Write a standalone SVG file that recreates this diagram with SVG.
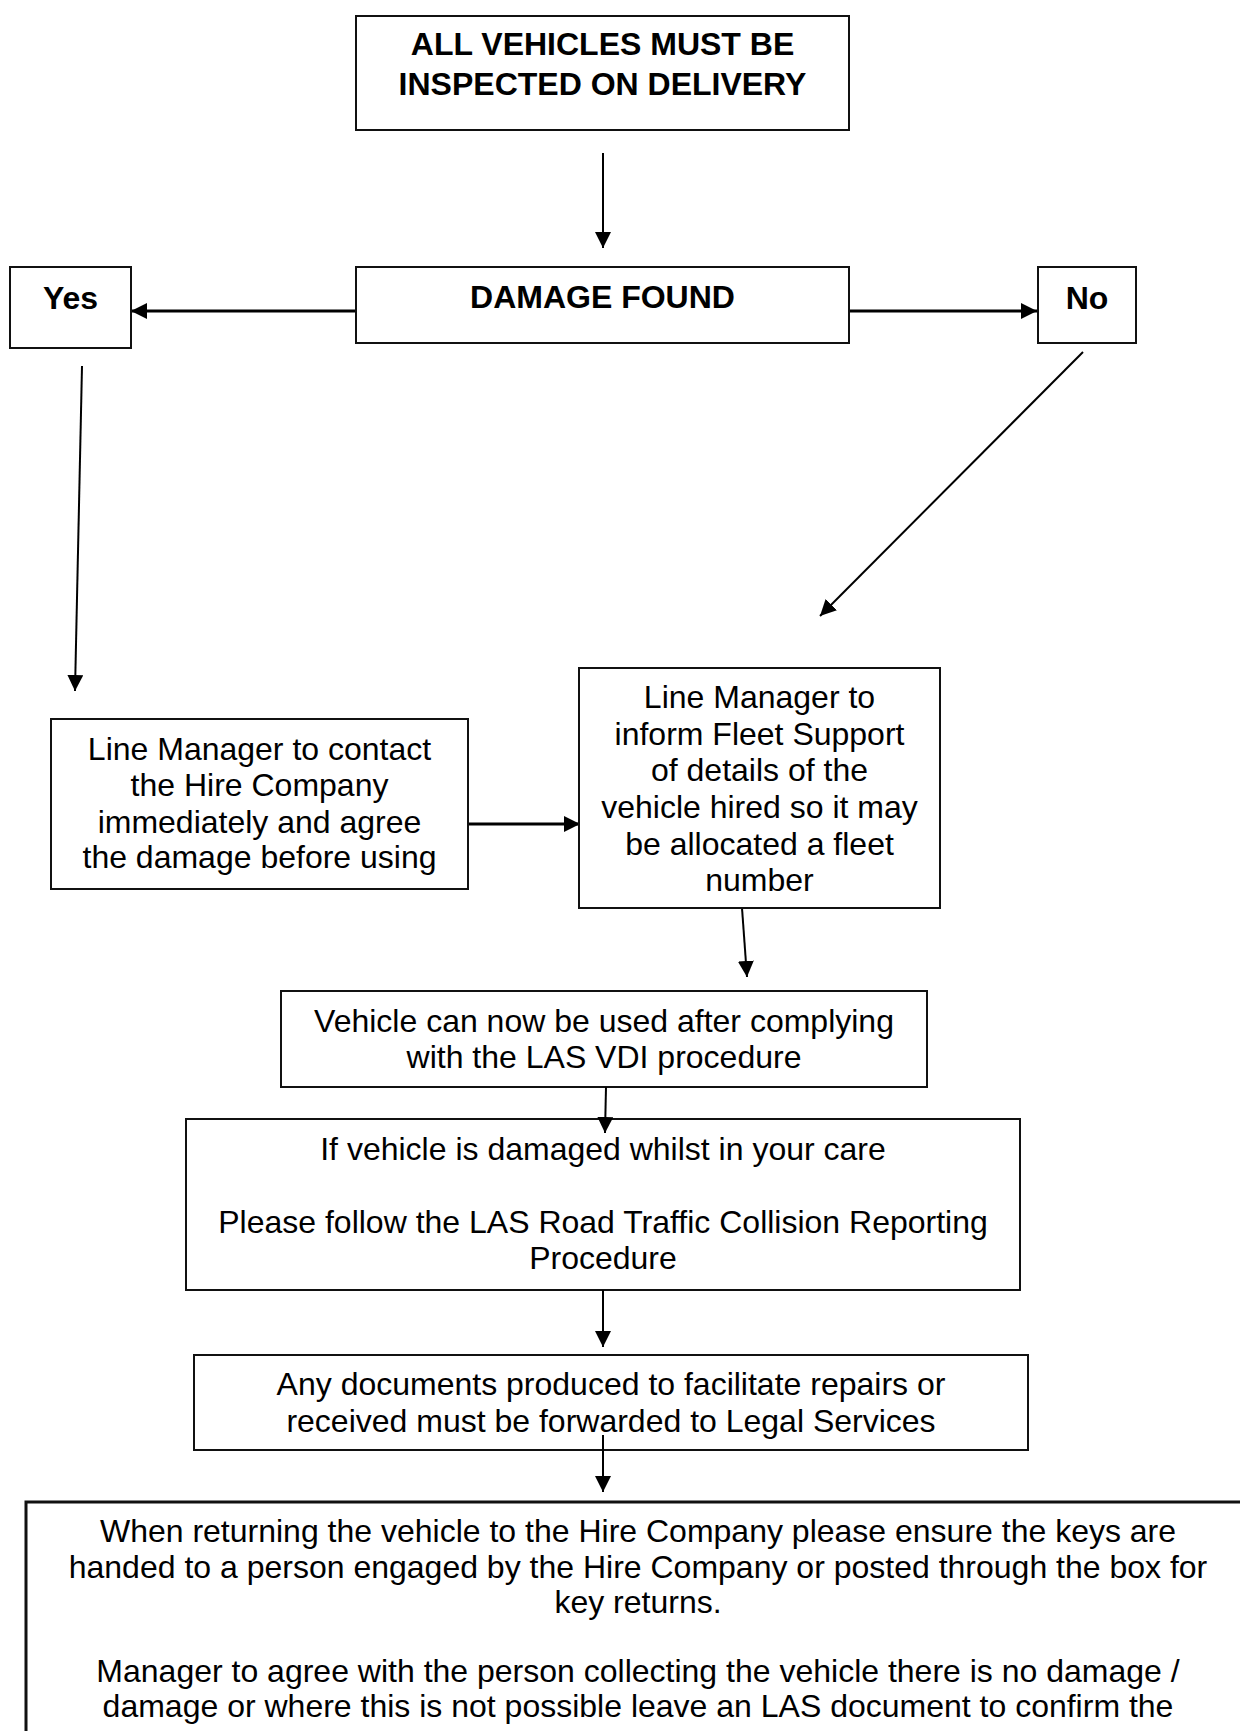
<svg xmlns="http://www.w3.org/2000/svg" width="1240" height="1731" viewBox="0 0 1240 1731">
<style>
.box{fill:#fff;stroke:#111;stroke-width:2}
.t{font-family:"Liberation Sans",Arial,sans-serif;font-size:32px;fill:#000;text-anchor:middle}
.b{font-weight:bold}
.c{stroke:#000;stroke-width:2;fill:none;marker-end:url(#ah)}
.k{stroke-width:3}
</style>
<defs>
<marker id="ah" markerUnits="userSpaceOnUse" markerWidth="17" markerHeight="17" refX="16" refY="8" orient="auto">
<path d="M0,0 L16,8 L0,16 z" fill="#000"/>
</marker>
</defs>
<rect width="1240" height="1731" fill="#fff"/>
<g id="connectors">
<line class="c" x1="603" y1="153" x2="603" y2="248"/>
<line class="c k" x1="356" y1="311" x2="131" y2="311"/>
<line class="c k" x1="849" y1="311" x2="1037" y2="311"/>
<line class="c" x1="82" y1="366" x2="75" y2="691"/>
<line class="c" x1="1083" y1="352" x2="820" y2="616"/>
<line class="c k" x1="468" y1="824" x2="580" y2="824"/>
<line class="c" x1="742" y1="908" x2="747" y2="977"/>
</g>
<g id="n-top"><rect class="box" x="356" y="16" width="493" height="114"/>
<text class="t b" x="602.5" y="55">ALL VEHICLES MUST BE</text>
<text class="t b" x="602.5" y="95">INSPECTED ON DELIVERY</text></g>
<g id="n-damage"><rect class="box" x="356" y="267" width="493" height="76"/>
<text class="t b" x="602.5" y="308">DAMAGE FOUND</text></g>
<g id="n-yes"><rect class="box" x="10" y="267" width="121" height="81"/>
<text class="t b" x="70.5" y="309">Yes</text></g>
<g id="n-no"><rect class="box" x="1038" y="267" width="98" height="76"/>
<text class="t b" x="1087" y="309">No</text></g>
<g id="n-contact"><rect class="box" x="51" y="719" width="417" height="170"/>
<text class="t" x="259.5" y="760">Line Manager to contact</text>
<text class="t" x="259.5" y="796">the Hire Company</text>
<text class="t" x="259.5" y="833">immediately and agree</text>
<text class="t" x="259.5" y="868">the damage before using</text></g>
<g id="n-inform"><rect class="box" x="579" y="668" width="361" height="240"/>
<text class="t" x="759.5" y="708">Line Manager to</text>
<text class="t" x="759.5" y="745">inform Fleet Support</text>
<text class="t" x="759.5" y="781">of details of the</text>
<text class="t" x="759.5" y="818">vehicle hired so it may</text>
<text class="t" x="759.5" y="855">be allocated a fleet</text>
<text class="t" x="759.5" y="891">number</text></g>
<g id="n-vehicle"><rect class="box" x="281" y="991" width="646" height="96"/>
<text class="t" x="604" y="1032">Vehicle can now be used after complying</text>
<text class="t" x="604" y="1068">with the LAS VDI procedure</text></g>
<g id="n-damaged"><rect class="box" x="186" y="1119" width="834" height="171"/>
<text class="t" x="603" y="1160">If vehicle is damaged whilst in your care</text>
<text class="t" x="603" y="1233">Please follow the LAS Road Traffic Collision Reporting</text>
<text class="t" x="603" y="1269">Procedure</text></g>
<g id="n-docs"><rect class="box" x="194" y="1355" width="834" height="95"/>
<text class="t" x="611" y="1395">Any documents produced to facilitate repairs or</text>
<text class="t" x="611" y="1432">received must be forwarded to Legal Services</text></g>
<g id="n-return"><rect class="box" x="26" y="1502" width="1224" height="260" style="stroke-width:3"/>
<text class="t" x="638" y="1542">When returning the vehicle to the Hire Company please ensure the keys are</text>
<text class="t" x="638" y="1578">handed to a person engaged by the Hire Company or posted through the box for</text>
<text class="t" x="638" y="1613">key returns.</text>
<text class="t" x="638" y="1682">Manager to agree with the person collecting the vehicle there is no damage /</text>
<text class="t" x="638" y="1717">damage or where this is not possible leave an LAS document to confirm the</text></g>
<g id="connectors-over">
<line class="c" x1="606" y1="1087" x2="605" y2="1133"/>
<line class="c" x1="603" y1="1290" x2="603" y2="1347"/>
<line class="c" x1="603" y1="1435" x2="603" y2="1492"/>
</g>
</svg>
